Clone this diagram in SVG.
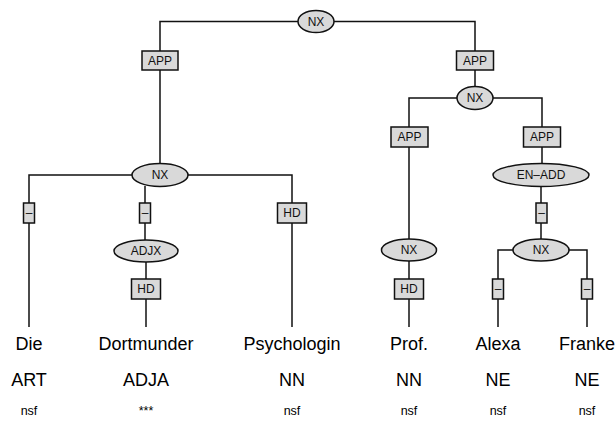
<svg xmlns="http://www.w3.org/2000/svg" width="616" height="421" viewBox="0 0 616 421">
<style>
.e{fill:#d9d9d9;stroke:#111;stroke-width:1.5}
.b{fill:#d9d9d9;stroke:#111;stroke-width:1.5}
.l{fill:none;stroke:#111;stroke-width:1.5}
.t{font-family:"Liberation Sans",Arial,sans-serif;font-size:12px;fill:#111;text-anchor:middle}
.w{font-family:"Liberation Sans",Arial,sans-serif;font-size:18px;fill:#000;text-anchor:middle}
.s{font-family:"Liberation Sans",Arial,sans-serif;font-size:12.5px;fill:#000;text-anchor:middle}
</style>
<rect width="616" height="421" fill="#fff"/>
<g id="connectors">
<path class="l" d="M298,21.5 H160 V164"/>
<path class="l" d="M334,21.5 H475 V87"/>
<path class="l" d="M132,175 H29 V327"/>
<path class="l" d="M188,175 H292 V327"/>
<path class="l" d="M145,186 V240"/>
<path class="l" d="M146,262 V327"/>
<path class="l" d="M457,98 H409 V239"/>
<path class="l" d="M493,98 H542 V164"/>
<path class="l" d="M409,261 V327"/>
<path class="l" d="M541,186 V239"/>
<path class="l" d="M513,250 H498 V327"/>
<path class="l" d="M569,250 H587 V327"/>
</g>
<g id="nx0"><ellipse class="e" cx="316" cy="21.5" rx="18" ry="11"/><text class="t" x="316" y="25.5">NX</text></g>
<g id="app1"><rect class="b" x="142" y="51" width="36" height="19"/><text class="t" x="160" y="64.5">APP</text></g>
<g id="app2"><rect class="b" x="456.5" y="51" width="37" height="19"/><text class="t" x="475" y="64.5">APP</text></g>
<g id="nx1"><ellipse class="e" cx="160" cy="175" rx="28" ry="11.5"/><text class="t" x="160" y="179">NX</text></g>
<g id="nx2"><ellipse class="e" cx="475" cy="98" rx="18" ry="11.5"/><text class="t" x="475" y="102">NX</text></g>
<g id="app3"><rect class="b" x="391" y="127" width="37" height="20"/><text class="t" x="409.5" y="141">APP</text></g>
<g id="app4"><rect class="b" x="523.5" y="127" width="37" height="20"/><text class="t" x="542" y="141">APP</text></g>
<g id="d1"><rect class="b" x="23.5" y="203" width="11" height="20"/><text class="t" x="29" y="217">–</text></g>
<g id="d2"><rect class="b" x="139.5" y="203" width="11" height="20"/><text class="t" x="145" y="217">–</text></g>
<g id="hd1"><rect class="b" x="277.5" y="203" width="29" height="20"/><text class="t" x="292" y="217">HD</text></g>
<g id="enadd"><ellipse class="e" cx="541" cy="175" rx="48" ry="11.5"/><text class="t" x="541" y="179">EN–ADD</text></g>
<g id="d3"><rect class="b" x="536" y="203" width="11" height="20"/><text class="t" x="541.5" y="217">–</text></g>
<g id="adjx"><ellipse class="e" cx="146" cy="251" rx="32" ry="11"/><text class="t" x="146" y="255">ADJX</text></g>
<g id="nx3"><ellipse class="e" cx="409" cy="250" rx="27.5" ry="11"/><text class="t" x="409" y="254">NX</text></g>
<g id="nx4"><ellipse class="e" cx="541" cy="250" rx="28" ry="11"/><text class="t" x="541" y="254">NX</text></g>
<g id="hd2"><rect class="b" x="131.5" y="279" width="29" height="20"/><text class="t" x="146" y="293">HD</text></g>
<g id="hd3"><rect class="b" x="394.5" y="279" width="29" height="20"/><text class="t" x="409" y="293">HD</text></g>
<g id="d4"><rect class="b" x="492.5" y="279" width="11" height="20"/><text class="t" x="498" y="293">–</text></g>
<g id="d5"><rect class="b" x="581.5" y="279" width="11" height="20"/><text class="t" x="587" y="293">–</text></g>
<g id="words">
<text class="w" x="29" y="350">Die</text>
<text class="w" x="146" y="350">Dortmunder</text>
<text class="w" x="292" y="350">Psychologin</text>
<text class="w" x="409" y="350">Prof.</text>
<text class="w" x="498" y="350">Alexa</text>
<text class="w" x="587" y="350">Franke</text>
<text class="w" x="29" y="386">ART</text>
<text class="w" x="146" y="386">ADJA</text>
<text class="w" x="292" y="386">NN</text>
<text class="w" x="409" y="386">NN</text>
<text class="w" x="498" y="386">NE</text>
<text class="w" x="587" y="386">NE</text>
<text class="s" x="29" y="415">nsf</text>
<text class="s" x="146" y="415">***</text>
<text class="s" x="292" y="415">nsf</text>
<text class="s" x="409" y="415">nsf</text>
<text class="s" x="498" y="415">nsf</text>
<text class="s" x="587" y="415">nsf</text>
</g>
</svg>
